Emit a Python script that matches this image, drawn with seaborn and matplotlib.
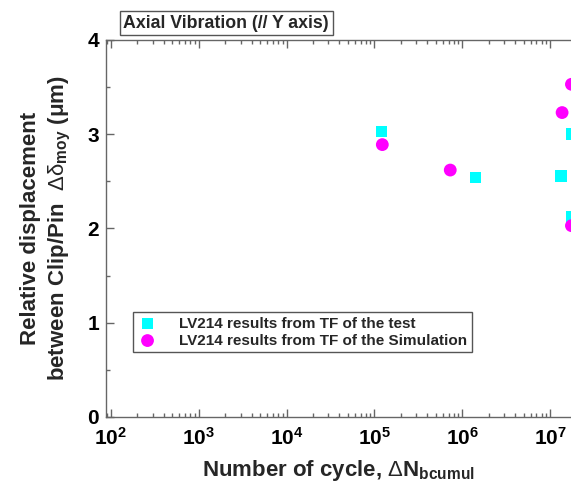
import numpy as np
import pandas as pd
import seaborn as sns
import matplotlib.pyplot as plt
from matplotlib.ticker import LogLocator, FixedLocator, FuncFormatter, NullFormatter

# values
test_cycles = [1.2e5, 1.41e6, 1.34e7, 1.75e7, 1.75e7]
test_disp = [3.03, 2.54, 2.56, 3.00, 2.12]
sim_cycles = [1.23e5, 7.3e5, 1.37e7, 1.75e7, 1.75e7]
sim_disp = [2.89, 2.62, 3.23, 3.53, 2.03]
test_label = 'LV214 results from TF of the test'
sim_label = 'LV214 results from TF of the Simulation'
title_text = 'Axial Vibration (// Y axis)'

sns.set_style('ticks')
plt.rcParams['font.family'] = ['Liberation Sans', 'DejaVu Sans']
plt.rcParams['font.weight'] = 'bold'
plt.rcParams['mathtext.fontset'] = 'custom'
plt.rcParams['mathtext.rm'] = 'Liberation Sans:normal'
plt.rcParams['mathtext.it'] = 'Liberation Sans:normal'
plt.rcParams['mathtext.bf'] = 'Liberation Sans:bold'

df_test = pd.DataFrame({'cycles': test_cycles, 'disp': test_disp})
df_sim = pd.DataFrame({'cycles': sim_cycles, 'disp': sim_disp})

fig = plt.figure(figsize=(5.71, 4.86), dpi=100)
ax = fig.add_axes([0.1857, 0.142, 0.8143, 0.7757])

sns.scatterplot(data=df_test, x='cycles', y='disp', ax=ax, marker='s', s=70,
                color='#00FFFF', edgecolor='none', label=test_label, clip_on=True)
sns.scatterplot(data=df_sim, x='cycles', y='disp', ax=ax, marker='o', s=85,
                color='#FF00FF', edgecolor='none', label=sim_label, clip_on=True)

ax.set_xscale('log')
ax.set_xlim(88, 1.73e7)
ax.set_ylim(0, 4)
ax.xaxis.set_major_locator(LogLocator(base=10, numticks=10))
ax.xaxis.set_minor_locator(LogLocator(base=10, subs=np.arange(2, 10), numticks=10))
ax.xaxis.set_major_formatter(FuncFormatter(lambda v, p: r'$\mathbf{10^{%d}}$' % round(np.log10(v))))
ax.xaxis.set_minor_formatter(NullFormatter())
ax.yaxis.set_major_locator(FixedLocator([0, 1, 2, 3, 4]))
ax.yaxis.set_minor_locator(FixedLocator([0.5, 1.5, 2.5, 3.5]))

ax.tick_params(which='both', direction='in', top=True, right=False, colors='#666666',
               labelcolor='black', labelsize=15)
ax.tick_params(which='major', length=6, width=1)
ax.tick_params(which='minor', length=3, width=1)
ax.tick_params(axis='x', pad=7)
ax.tick_params(axis='y', pad=5)
for lab in ax.get_yticklabels():
    lab.set_fontweight('bold')

for side in ['left', 'top', 'bottom']:
    ax.spines[side].set_color('#666666')
    ax.spines[side].set_linewidth(1)
ax.spines['right'].set_visible(False)

ax.set_xlabel(r'Number of cycle, $\mathrm{\Delta}\mathbf{N_{bcumul}}$', fontsize=16,
              fontweight='bold', labelpad=7)
ax.set_ylabel('Relative displacement\nbetween Clip/Pin  $\\mathrm{\\Delta\\delta}_{\\mathbf{moy}}$ (\u03bcm)',
              fontsize=16, fontweight='bold', labelpad=10, linespacing=1.35)

leg = ax.legend(loc='lower left', bbox_to_anchor=(0.058, 0.172), borderaxespad=0,
                fancybox=False, framealpha=1, edgecolor='#555555', fontsize=11,
                handletextpad=1.4, borderpad=0.3, labelspacing=0.2, handlelength=1.3)
leg.get_frame().set_linewidth(1)
for t in leg.get_texts():
    t.set_fontweight('bold')

fig.text(0.216, 0.952, title_text, fontsize=12.8, fontweight='bold', ha='left', va='center',
         bbox=dict(boxstyle='square,pad=0.2', facecolor='white', edgecolor='#555555', linewidth=1))

fig.savefig('out.png', dpi=100)
